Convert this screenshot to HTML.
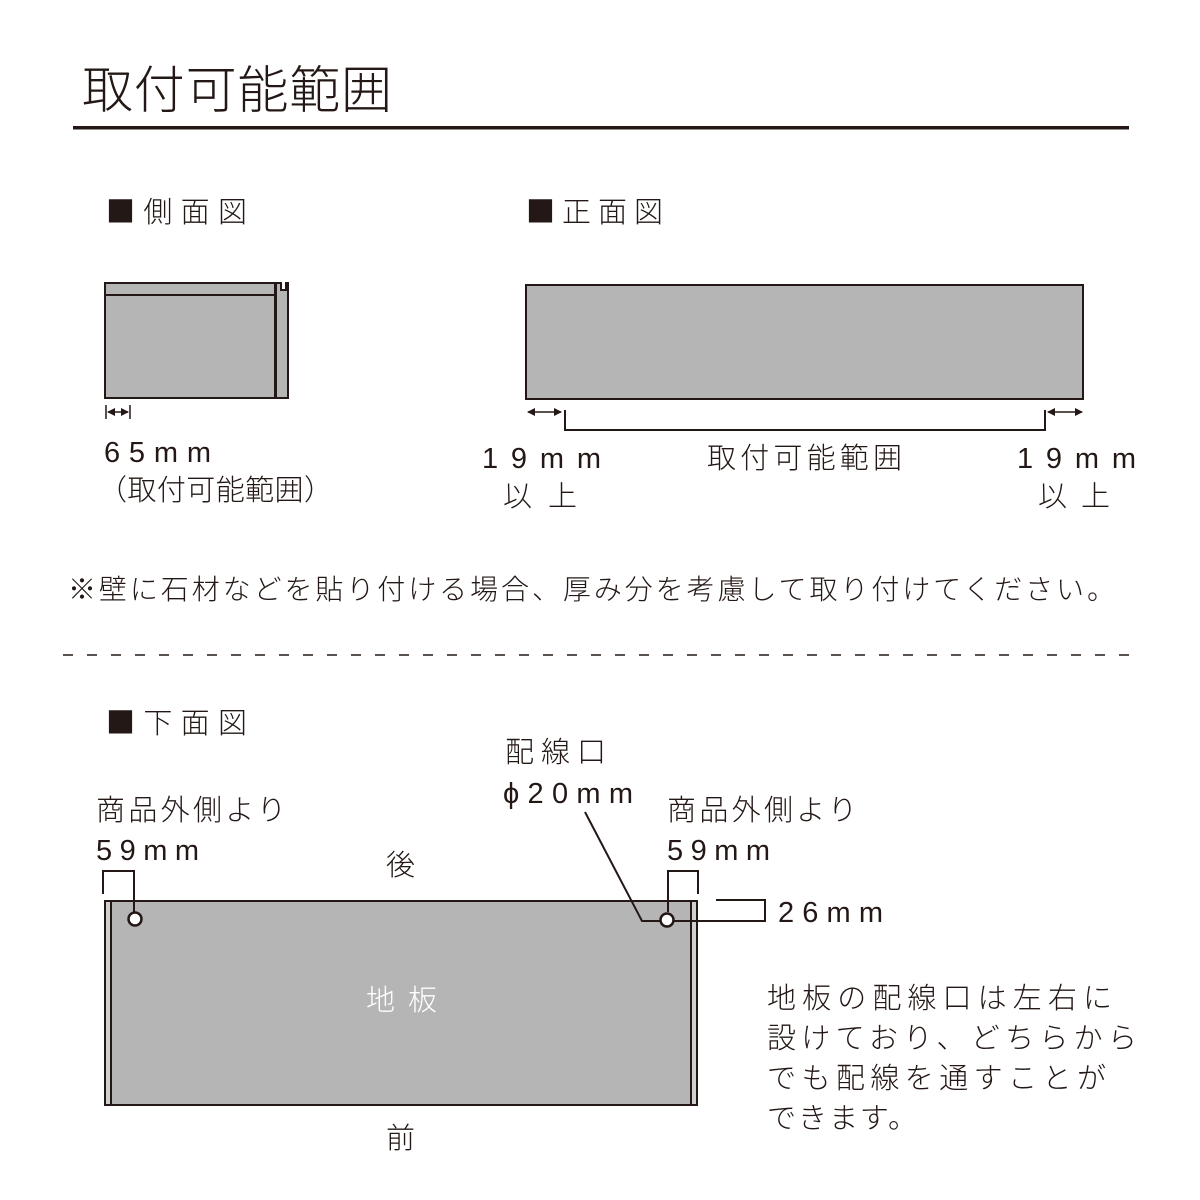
<!DOCTYPE html>
<html><head><meta charset="utf-8"><style>
html,body{margin:0;padding:0;background:#fff}
svg{display:block}
text{font-family:"Liberation Sans","Noto Sans CJK JP",sans-serif;fill:#231815;font-weight:300}
.j{font-family:"Noto Sans CJK JP",sans-serif}
</style></head><body>
<svg width="1200" height="1200" viewBox="0 0 1200 1200" xmlns="http://www.w3.org/2000/svg">
<defs>
<marker id="ah" markerWidth="8" markerHeight="8" refX="7" refY="4" orient="auto-start-reverse" markerUnits="userSpaceOnUse"><path d="M0,0 L8,4 L0,8 z" fill="#231815"/></marker>
</defs>
<text x="82" y="108" font-size="51" textLength="310" lengthAdjust="spacing">取付可能範囲</text>
<rect x="73" y="126" width="1056" height="3.5" fill="#231815"/>

<text class="j" x="106" y="222" font-size="29" textLength="141" lengthAdjust="spacing">■側面図</text>
<text class="j" x="526" y="222" font-size="29" textLength="137" lengthAdjust="spacing">■正面図</text>

<!-- side view -->
<g stroke="#231815" stroke-width="2" fill="#b5b5b5">
<path d="M276,283 H281 V290 H286 V283 H288 V398 H276 Z"/>
<rect x="105" y="283" width="171" height="115"/>
<line x1="105" y1="295" x2="276" y2="295"/>
<line x1="275.5" y1="283" x2="275.5" y2="398" stroke-width="3"/>
</g>
<line x1="106" y1="405" x2="106" y2="419" stroke="#231815" stroke-width="1.5"/>
<line x1="130" y1="405" x2="130" y2="419" stroke="#231815" stroke-width="1.5"/>
<line x1="108" y1="412" x2="128" y2="412" stroke="#231815" stroke-width="1.5" marker-start="url(#ah)" marker-end="url(#ah)"/>
<text x="104" y="462" font-size="29" textLength="107" lengthAdjust="spacing">65mm</text>
<text x="98" y="500" font-size="29" textLength="235" lengthAdjust="spacing">（取付可能範囲）</text>

<!-- front view -->
<rect x="526" y="285" width="557" height="114" fill="#b5b5b5" stroke="#231815" stroke-width="2"/>
<line x1="528" y1="412" x2="561" y2="412" stroke="#231815" stroke-width="1.5" marker-start="url(#ah)" marker-end="url(#ah)"/>
<line x1="1048" y1="412" x2="1082" y2="412" stroke="#231815" stroke-width="1.5" marker-start="url(#ah)" marker-end="url(#ah)"/>
<path d="M565,410 V430 H1045 V410" fill="none" stroke="#231815" stroke-width="2"/>
<text x="482" y="468" font-size="29" textLength="119" lengthAdjust="spacing">19mm</text>
<text x="503" y="506" font-size="29" textLength="74" lengthAdjust="spacing">以上</text>
<text x="707" y="468" font-size="29" textLength="195" lengthAdjust="spacing">取付可能範囲</text>
<text x="1017" y="468" font-size="29" textLength="119" lengthAdjust="spacing">19mm</text>
<text x="1038" y="506" font-size="29" textLength="72" lengthAdjust="spacing">以上</text>

<text x="68" y="599" font-size="28" textLength="1047" lengthAdjust="spacing">※壁に石材などを貼り付ける場合、厚み分を考慮して取り付けてください。</text>

<line x1="63" y1="655" x2="1140" y2="655" stroke="#231815" stroke-width="1.5" stroke-dasharray="10,14"/>

<text class="j" x="106" y="733" font-size="29" textLength="141" lengthAdjust="spacing">■下面図</text>
<text x="505" y="762" font-size="29" textLength="101" lengthAdjust="spacing">配線口</text>
<text x="503" y="803" font-size="29" textLength="130" lengthAdjust="spacing">ϕ20mm</text>
<text x="96" y="820" font-size="29" textLength="190" lengthAdjust="spacing">商品外側より</text>
<text x="96" y="860" font-size="29" textLength="103" lengthAdjust="spacing">59mm</text>
<text x="667" y="820" font-size="29" textLength="190" lengthAdjust="spacing">商品外側より</text>
<text x="667" y="860" font-size="29" textLength="103" lengthAdjust="spacing">59mm</text>
<text x="386" y="875" font-size="29">後</text>
<text x="386" y="1148" font-size="29">前</text>
<text x="778" y="922" font-size="29" textLength="105" lengthAdjust="spacing">26mm</text>

<!-- bottom view -->
<g stroke="#231815" stroke-width="2">
<rect x="105" y="901" width="592" height="204" fill="#b5b5b5"/>
<rect x="106" y="902" width="5" height="202" fill="#d0d0d0" stroke="none"/>
<rect x="692" y="902" width="4" height="202" fill="#d0d0d0" stroke="none"/>
<line x1="111" y1="901" x2="111" y2="1105"/>
<line x1="691" y1="901" x2="691" y2="1105"/>
<path d="M103,894 V871 H134 V912" fill="none"/>
<path d="M668,912 V871 H698 V894" fill="none"/>
<path d="M585,812 L642,921 H765 V900 H716" fill="none"/>
<circle cx="135" cy="919" r="6.5" fill="#fff" stroke-width="2.5"/>
<circle cx="667" cy="920" r="6.5" fill="#fff" stroke-width="2.5"/>
</g>
<text x="366" y="1010" font-size="29" textLength="71" lengthAdjust="spacing" style="fill:#fff">地板</text>

<text x="767" y="1008" font-size="29" textLength="345" lengthAdjust="spacing">地板の配線口は左右に</text>
<text x="767" y="1048" font-size="29" textLength="370" lengthAdjust="spacing">設けており、どちらから</text>
<text x="767" y="1088" font-size="29" textLength="339" lengthAdjust="spacing">でも配線を通すことが</text>
<text x="767" y="1128" font-size="29" textLength="150" lengthAdjust="spacing">できます。</text>
</svg>
</body></html>
